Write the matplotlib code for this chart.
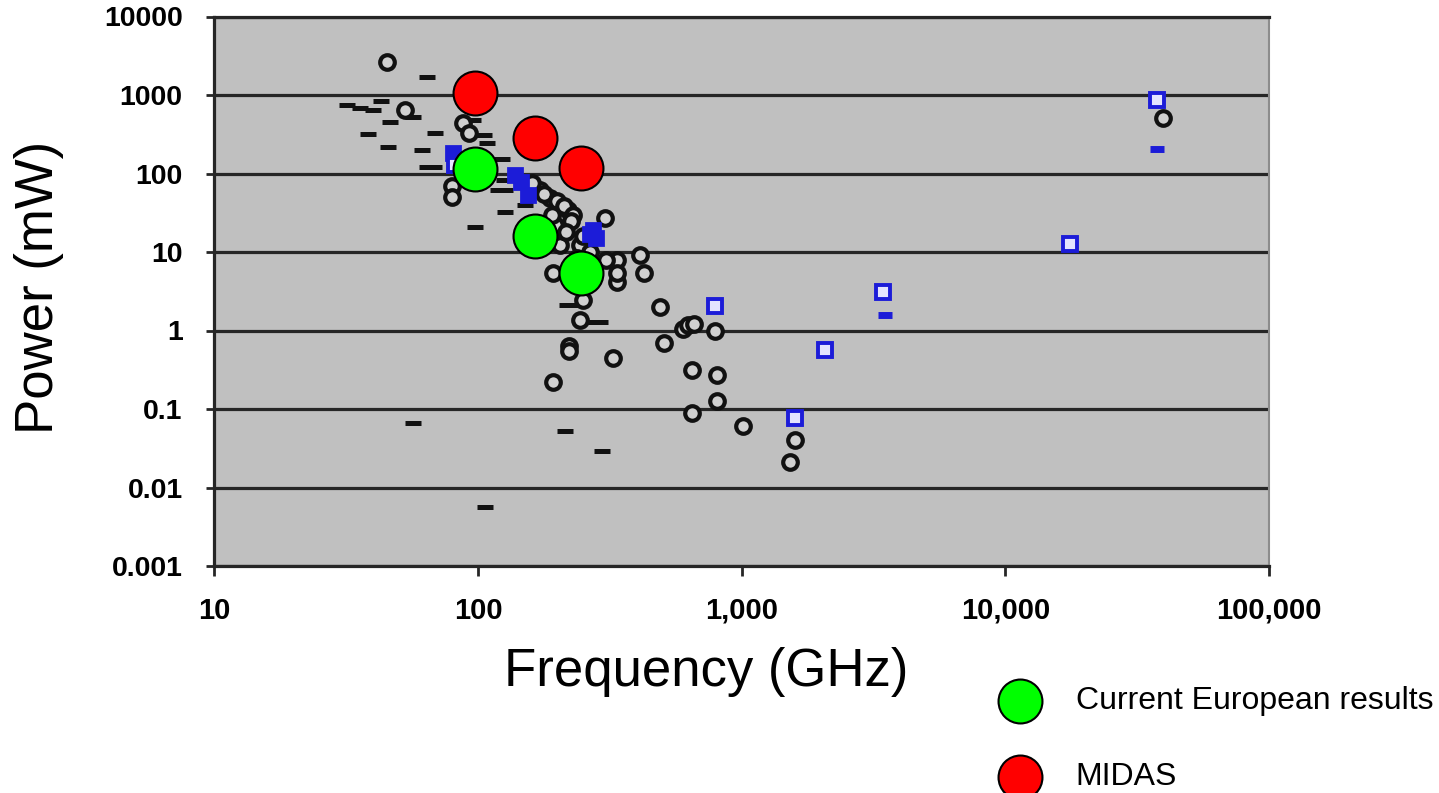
import matplotlib
matplotlib.use('Agg')
import matplotlib.pyplot as plt
from matplotlib.ticker import FixedLocator, FixedFormatter, NullLocator

plt.rcParams['font.family'] = ['Liberation Sans', 'DejaVu Sans']

# ---------------- data ----------------
black_dash_f = [63.8, 31.8, 35.6, 40, 43, 46.4, 38.3, 45.6, 56.8, 68.7, 61, 63.8, 68,
                96, 105, 108, 123, 97, 125, 126, 126, 119, 56.8, 214, 294, 106,
                217, 223, 290, 258, 150, 180]
black_dash_p = [1711, 746, 676, 644, 839, 457, 316, 219, 520, 325, 199, 122, 122,
                481, 309, 242, 152, 21, 82.6, 61.6, 32.6, 61.6, 0.067, 0.052, 0.029, 0.0056,
                2.1, 2.1, 1.28, 1.28, 40, 28]

black_circ_f = [45.1, 52.9, 79.4, 79.4, 88, 92, 172, 187, 205, 219, 196, 244, 237, 205,
                193, 303, 336, 336, 336, 411, 424, 250, 244, 222, 222, 193, 326, 490,
                600, 627, 660, 792, 505, 646, 803, 803, 646, 1014, 1592, 1525, 39600,
                262, 306, 160, 178, 200, 212, 230, 190, 225, 215, 250, 265]
black_circ_p = [2630, 644, 70, 50, 440, 330, 61.6, 48.7, 39.7, 34.3, 22, 12.3, 8.4, 12.3,
                5.4, 27, 7.9, 4.2, 5.4, 9.2, 5.4, 2.45, 1.36, 0.635, 0.55, 0.223, 0.443, 2.0,
                1.05, 1.17, 1.2, 1.0, 0.687, 0.31, 0.271, 0.128, 0.088, 0.061, 0.040, 0.021, 509,
                6.5, 7.9, 75, 55, 45, 38, 30, 30, 25, 18, 16, 10]

blue_sq_f = [792, 37600, 17600, 3435, 2070, 1592, 82]
blue_sq_p = [2.05, 863, 12.6, 3.1, 0.565, 0.077, 130]

blue_fill_f = [80.5, 138, 146, 155, 273, 265, 280]
blue_fill_p = [181, 95, 79, 53, 19, 17, 15]

blue_dash_f = [37600, 3500]
blue_dash_p = [205, 1.57]

eu_f = [97, 164, 245]
eu_p = [114, 16, 5.4]
midas_f = [97, 164, 245]
midas_p = [1070, 286, 116]

x_ticks = [10, 100, 1000, 10000, 100000]
x_tick_labels = ['10', '100', '1,000', '10,000', '100,000']
y_ticks = [0.001, 0.01, 0.1, 1, 10, 100, 1000, 10000]
y_tick_labels = ['0.001', '0.01', '0.1', '1', '10', '100', '1000', '10000']

# ---------------- figure ----------------
fig = plt.figure(figsize=(14.39, 7.93), dpi=100)
ax = fig.add_axes([214.5 / 1439, 1 - 566 / 793, (1269 - 214.5) / 1439, (566 - 16.5) / 793])
ax.set_facecolor('#c0c0c0')
ax.set_xscale('log')
ax.set_yscale('log')
ax.set_xlim(10, 100000)
ax.set_ylim(0.001, 10000)
ax.set_axisbelow(True)

ax.plot(black_dash_f, black_dash_p, linestyle='none', marker='_', ms=12, mew=3.6,
        color='#111111')
ax.plot(black_circ_f, black_circ_p, linestyle='none', marker='o', ms=10.5,
        mfc='#d0d0d0', mec='#111111', mew=3.0)
ax.plot(blue_fill_f, blue_fill_p, linestyle='none', marker='s', ms=10.5,
        mfc='#1c1cd8', mec='#1c1cd8', mew=2)
ax.plot(blue_sq_f, blue_sq_p, linestyle='none', marker='s', ms=9.5,
        mfc='#e4e4ff', mec='#1c1cd8', mew=2.8)
ax.plot(blue_dash_f, blue_dash_p, linestyle='none', marker='_', ms=10.5, mew=5,
        color='#1c1cd8')

eu = ax.scatter(eu_f, eu_p, s=1000, c='#00ff00', edgecolors='black', linewidths=1.5,
                zorder=5, label='Current European results')
mi = ax.scatter(midas_f, midas_p, s=1000, c='#ff0000', edgecolors='black', linewidths=1.5,
                zorder=5, label='MIDAS')

# axes styling
ax.xaxis.set_major_locator(FixedLocator(x_ticks))
ax.xaxis.set_major_formatter(FixedFormatter(x_tick_labels))
ax.yaxis.set_major_locator(FixedLocator(y_ticks))
ax.yaxis.set_major_formatter(FixedFormatter(y_tick_labels))
ax.xaxis.set_minor_locator(NullLocator())
ax.yaxis.set_minor_locator(NullLocator())

ax.yaxis.grid(True, color='#262626', linewidth=2.3)
ax.xaxis.grid(False)

for side in ['left', 'bottom', 'top']:
    ax.spines[side].set_color('#262626')
    ax.spines[side].set_linewidth(2.3)
ax.spines['right'].set_color('#8c8c8c')
ax.spines['right'].set_linewidth(1.5)

ax.tick_params(axis='x', direction='out', length=7, width=2, color='#262626',
               pad=15, labelsize=21)
ax.tick_params(axis='y', direction='out', length=6, width=2, color='#262626',
               pad=17, labelsize=20.5)
for lab in ax.get_xticklabels() + ax.get_yticklabels():
    lab.set_fontweight('bold')

ax.set_xlabel('Frequency (GHz)', fontsize=38)
ax.xaxis.set_label_coords((706 - 214.5) / 1054.5, (566 - 647) / 549.5)
ax.set_ylabel('Power (mW)', fontsize=38)
ax.yaxis.set_label_coords((64 - 214.5) / 1054.5, (566 - 287) / 549.5)

leg = ax.legend(handles=[eu, mi], loc='upper left',
                bbox_to_anchor=(996 / 1439, 1 - 686 / 793),
                bbox_transform=fig.transFigure, frameon=False, fontsize=23,
                handlelength=1.5, handletextpad=1.0, labelspacing=1.45,
                borderpad=0, borderaxespad=0, scatterpoints=1)

fig.savefig('out.png', dpi=100, facecolor='white')
